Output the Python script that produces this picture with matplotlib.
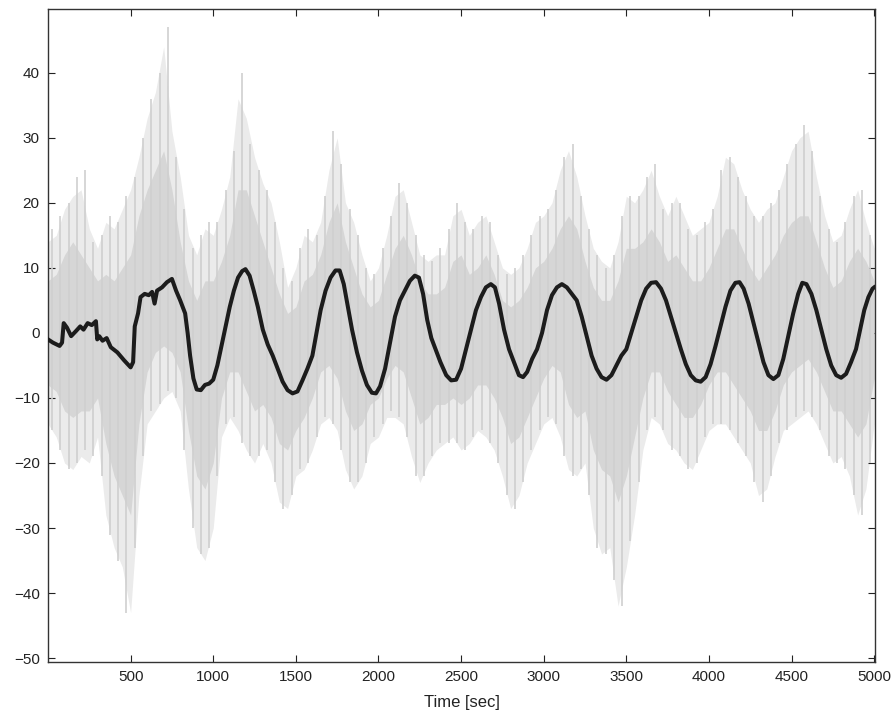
import numpy as np
import matplotlib
matplotlib.use("Agg")
import matplotlib.pyplot as plt

plt.rcParams["font.family"] = ["Liberation Sans", "DejaVu Sans"]

noise_t = np.arange(0, 5001, 50)
noise_hi = [14, 15, 19, 21, 22, 16, 13, 17, 16, 19, 22, 27, 33, 37, 44, 31, 24, 15, 12, 16,
            15, 19, 24, 36, 33, 27, 23, 20, 14, 7, 10, 15, 14, 17, 25, 30, 20, 17, 12, 8,
            10, 15, 21, 22, 17, 12, 11, 12, 12, 18, 19, 15, 17, 18, 14, 10, 9, 10, 13, 17,
            18, 20, 25, 28, 24, 18, 13, 11, 10, 14, 21, 20, 22, 25, 21, 18, 21, 18, 15, 16,
            17, 21, 27, 26, 22, 19, 17, 19, 20, 24, 28, 30, 31, 24, 18, 14, 15, 19, 22, 17, 13]
noise_lo = [-14, -16, -20, -21, -19, -20, -16, -28, -33, -36, -43, -25, -14, -12, -10, -9, -12, -24, -33, -35,
            -30, -16, -13, -15, -18, -20, -17, -20, -26, -27, -22, -21, -18, -14, -13, -15, -21, -24, -22, -17,
            -16, -13, -13, -14, -19, -23, -20, -18, -17, -16, -18, -17, -15, -16, -18, -22, -27, -25, -20, -17,
            -14, -13, -16, -21, -22, -20, -30, -34, -33, -42, -36, -28, -18, -13, -14, -17, -18, -20, -21, -18,
            -15, -14, -14, -16, -18, -20, -25, -24, -19, -15, -14, -13, -12, -14, -17, -20, -19, -22, -28, -24, -14]

# denser core of the raw signal
core_hi = [8, 9, 12, 14, 12, 10, 8, 9, 8, 10, 12, 18, 22, 25, 28, 22, 14, 8, 5, 8,
           8, 11, 15, 22, 22, 18, 14, 10, 6, 3, 4, 8, 9, 12, 17, 20, 14, 10, 6, 4,
           5, 9, 13, 15, 12, 8, 6, 6, 7, 11, 12, 9, 10, 12, 9, 5, 4, 5, 7, 10,
           11, 13, 16, 18, 16, 11, 7, 5, 5, 8, 13, 13, 14, 16, 14, 11, 12, 10, 8, 8,
           10, 13, 16, 16, 13, 10, 8, 10, 12, 15, 17, 18, 18, 14, 10, 7, 8, 11, 13, 11, 8]
core_lo = [-8, -9, -12, -13, -12, -12, -10, -17, -22, -25, -28, -14, -6, -3, -2, -3, -6, -15, -22, -24,
           -20, -10, -6, -6, -9, -12, -11, -13, -17, -18, -15, -13, -10, -6, -5, -7, -12, -15, -14, -11,
           -10, -7, -5, -6, -10, -14, -13, -11, -11, -10, -11, -10, -8, -8, -10, -13, -17, -16, -13, -10,
           -7, -5, -6, -11, -13, -12, -18, -21, -22, -26, -22, -16, -10, -6, -6, -9, -11, -13, -13, -11,
           -8, -6, -6, -8, -10, -12, -15, -15, -12, -8, -6, -5, -4, -6, -9, -12, -12, -14, -16, -14, -7]

# individual spikes between the envelope samples
spike_t = np.arange(25, 5000, 50)
spike_hi = [16, 18, 20, 24, 25, 14, 15, 18, 17, 21, 24, 30, 36, 40, 47, 27, 19, 13, 15, 17,
            17, 22, 28, 40, 29, 25, 22, 17, 10, 8, 13, 16, 15, 21, 31, 26, 19, 15, 10, 9,
            13, 18, 23, 20, 15, 12, 11, 13, 16, 20, 17, 16, 18, 17, 12, 9, 10, 12, 15, 18,
            19, 22, 27, 29, 21, 16, 12, 10, 12, 18, 21, 21, 24, 26, 19, 20, 20, 16, 15, 17,
            19, 25, 27, 24, 21, 18, 18, 20, 22, 26, 29, 32, 28, 21, 16, 14, 17, 21, 22, 15]
spike_lo = [-15, -18, -21, -20, -18, -19, -22, -31, -35, -43, -33, -19, -12, -11, -9, -10, -18, -30, -34, -33,
            -22, -14, -13, -17, -19, -19, -18, -23, -27, -25, -21, -20, -16, -13, -14, -18, -23, -23, -20, -16,
            -14, -12, -13, -16, -22, -22, -19, -17, -17, -17, -18, -16, -15, -17, -20, -25, -27, -23, -18, -15,
            -13, -14, -19, -22, -21, -25, -33, -34, -38, -42, -32, -23, -15, -13, -15, -18, -19, -21, -20, -16,
            -14, -14, -15, -17, -19, -23, -26, -22, -17, -15, -13, -12, -13, -15, -19, -20, -21, -25, -28, -20]

# ---- filtered estimate (black line) ----
track_t = [0, 30, 70, 85, 95, 115, 140, 170, 195, 215, 240, 265, 290, 298, 310, 330, 355, 380,
           420, 460, 500, 515, 525, 545, 560, 585, 610, 630, 645, 660, 690, 720, 750, 775, 800,
           830, 845, 860, 880, 900, 925, 950, 975, 1000, 1025, 1050, 1075, 1100, 1125, 1150,
           1175, 1195, 1220, 1245, 1270, 1300, 1330, 1360, 1390, 1420, 1450, 1480, 1510, 1540,
           1570, 1600, 1625, 1650, 1680, 1710, 1740, 1765, 1790, 1815, 1840, 1870, 1900, 1930,
           1960, 1985, 2010, 2040, 2070, 2100, 2130, 2160, 2190, 2220, 2245, 2270, 2295, 2320,
           2345, 2375, 2410, 2440, 2470, 2500, 2530, 2560, 2590, 2620, 2650, 2680, 2705, 2730,
           2760, 2790, 2820, 2850, 2875, 2900, 2930, 2960, 2990, 3020, 3050, 3080, 3110, 3140,
           3170, 3200, 3230, 3260, 3290, 3320, 3350, 3380, 3410, 3440, 3470, 3500, 3530, 3560,
           3590, 3620, 3650, 3680, 3710, 3740, 3770, 3800, 3830, 3860, 3890, 3920, 3950, 3980,
           4010, 4040, 4070, 4100, 4130, 4160, 4185, 4210, 4240, 4270, 4300, 4330, 4360, 4390,
           4420, 4450, 4480, 4510, 4540, 4565, 4590, 4620, 4650, 4680, 4710, 4740, 4770, 4800,
           4830, 4860, 4890, 4915, 4940, 4965, 4990, 5000]
track_v = [-1.0, -1.5, -2.0, -1.5, 1.5, 0.8, -0.5, 0.3, 1.0, 0.5, 1.5, 1.2, 1.8, -1.0, -0.5, -1.2, -0.8, -2.2,
           -3.0, -4.2, -5.3, -4.5, 1.0, 3.0, 5.5, 6.0, 5.8, 6.3, 4.5, 6.5, 7.0, 7.8, 8.3, 6.5, 5.0,
           3.0, 0.0, -3.5, -7.0, -8.7, -8.8, -8.0, -7.8, -7.2, -5.0, -2.0, 1.0, 4.0, 6.5, 8.5,
           9.5, 9.8, 8.8, 6.5, 4.0, 0.5, -1.8, -3.5, -5.5, -7.5, -8.8, -9.3, -9.0, -7.3,
           -5.5, -3.5, 0.0, 3.5, 6.5, 8.5, 9.6, 9.6, 7.5, 4.0, 0.5, -3.0, -5.8, -8.0,
           -9.2, -9.3, -8.2, -5.5, -1.5, 2.5, 5.0, 6.5, 8.0, 8.8, 8.5, 6.0, 2.0, -0.8,
           -2.5, -4.5, -6.5, -7.3, -7.2, -5.5, -2.5, 0.5, 3.5, 5.5, 7.0, 7.5, 7.0, 4.5,
           0.5, -2.5, -4.5, -6.5, -6.8, -6.0, -4.0, -2.5, 0.0, 3.5, 5.8, 7.0, 7.5, 7.0,
           6.0, 5.0, 2.5, -0.5, -3.5, -5.5, -6.8, -7.2, -6.5, -5.0, -3.5, -2.5, 0.0, 2.5,
           5.0, 6.8, 7.7, 7.8, 6.8, 5.0, 2.5, 0.0, -2.5, -4.8, -6.5, -7.3, -7.5, -6.8,
           -4.8, -2.0, 1.0, 4.0, 6.5, 7.7, 7.8, 6.8, 4.5, 1.5, -1.5, -4.5, -6.5, -7.1,
           -6.5, -4.0, -0.5, 3.0, 6.0, 7.7, 7.5, 6.0, 3.5, 0.5, -2.5, -5.0, -6.5, -6.9,
           -6.3, -4.5, -2.5, 0.5, 3.5, 5.5, 6.8, 7.0]

x_ticks = [500, 1000, 1500, 2000, 2500, 3000, 3500, 4000, 4500, 5000]
y_ticks = [-50, -40, -30, -20, -10, 0, 10, 20, 30, 40]

fig = plt.figure(figsize=(8.96, 7.28), dpi=100)
ax = fig.add_axes([48 / 896, 66 / 728, 827 / 896, 653 / 728])

# raw signal: light outer envelope, streaks, slightly darker core
ax.fill_between(noise_t, noise_lo, noise_hi, color="#ebebeb", lw=0, zorder=1)
ax.fill_between(noise_t, core_lo, core_hi, color="#d6d6d6", lw=0, zorder=2)
ax.vlines(spike_t, spike_lo, spike_hi, color="#cfcfcf", lw=1.2, zorder=2.5)
ax.plot(track_t, track_v, color="#1c1c1c", lw=2.9, solid_joinstyle="round", zorder=3)

ax.set_xlim(0, 5005)
ax.set_ylim(-50.6, 49.8)
ax.set_xticks(x_ticks)
ax.set_yticks(y_ticks)
ax.tick_params(direction="in", top=True, right=True, length=5, width=0.8,
               labelsize=11, colors="#222222", pad=6)
for s in ax.spines.values():
    s.set_color("#333333")
    s.set_linewidth(1.0)
ax.set_xlabel("Time [sec]", fontsize=12, color="#222222", labelpad=8)

fig.savefig("out.png", dpi=100)
